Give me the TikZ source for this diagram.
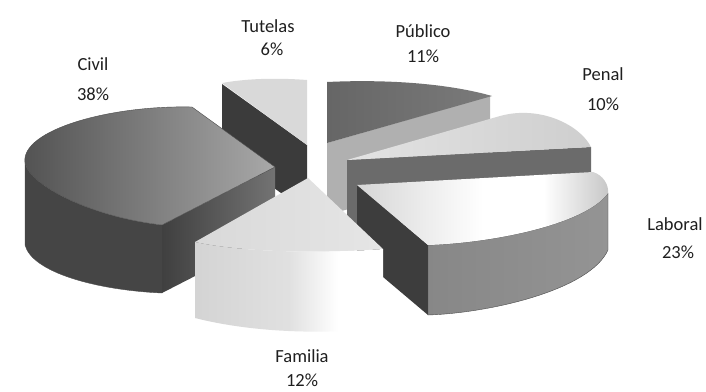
\documentclass[tikz,border=0pt]{standalone}
\usepackage{fontspec}
\setmainfont{Carlito}
\pgfdeclarehorizontalshading{famside}{100bp}{color(0bp)=(black!17); color(25bp)=(black!17); color(50bp)=(black!12); color(63bp)=(white); color(100bp)=(white)}
\pgfdeclarehorizontalshading{labtop}{100bp}{color(0bp)=(black!16); color(25bp)=(black!16); color(50bp)=(white); color(62bp)=(white); color(75bp)=(black!22); color(100bp)=(black!22)}
\begin{document}
\begin{tikzpicture}[x=1pt,y=-1pt,
  edge/.style={draw=black!70, line width=0.4pt, line join=round},
  lbl/.style={font=\fontsize{18.5}{22}\selectfont, text=black!88, anchor=base, inner sep=0pt}]
\useasboundingbox (0,0) rectangle (706,391);
\fill[white] (0,0) rectangle (706,391);

% ---- Tutelas
\fill[black!77] (222,84) -- (307,145) -- (307,212) -- (222,150) -- cycle;
\fill[black!15] (222,83) .. controls (250,78) and (280,78) .. (307,80) -- (307,145) -- cycle;

% ---- Publico
\fill[black!31] (327,143) -- (490,96) -- (490,170) -- (327,215) -- cycle;
\shade[left color=black!60, right color=black!52] (327,82) .. controls (390,79) and (450,84) .. (492,96) -- (327,143) -- cycle;

% ---- Penal
\fill[black!58] (347,160) -- (591,147) -- (591,185) -- (347,232) -- cycle;
\shade[left color=black!11, right color=black!19] (347,160) -- (500,116) .. controls (540,105) and (580,125) .. (591,147) -- cycle;

% ---- Civil
\fill[black!73] (25,163) .. controls (30,186) and (92,217) .. (162,225) -- (162,293) .. controls (95,290) and (32,272) .. (25,245) -- cycle;
\draw[edge] (25,163) -- (25,245) .. controls (32,272) and (95,290) .. (162,293);
\shade[left color=black!75, right color=black!55] (162,225) -- (275,167) -- (275,235) -- (162,293) -- cycle;
\shade[left color=black!68, right color=black!34, edge] (162,225) .. controls (92,217) and (30,186) .. (25,163) .. controls (20,130) and (110,105) .. (192,107) -- (275,167) -- cycle;

% ---- Laboral
\fill[black!76] (357,185) -- (428,245) -- (428,315) -- (357,255) -- cycle;
\shade[left color=black!47, right color=black!42, edge] (428,245) .. controls (490,243) and (585,225) .. (608,193) -- (608,250) .. controls (590,290) and (490,313) .. (428,315) -- cycle;
\path[shading=labtop] (357,185) -- (593,172) .. controls (603,175) and (609,185) .. (608,193) .. controls (585,225) and (490,243) .. (428,245) -- cycle;

% ---- Familia
\shade[left color=black!15, right color=black!10] (308,178) -- (195,242) .. controls (240,252) and (320,254) .. (383,249) -- cycle;
\path[shading=famside] (195,242) .. controls (240,252) and (320,254) .. (383,249) -- (383,328) .. controls (320,335) and (250,332) .. (195,318) -- cycle;

% ---- labels
\node[lbl] (tut) at (268,32) {Tutelas};
\node[lbl] (tutp) at (272,55) {6\%};
\node[lbl] (civ) at (93,70) {Civil};
\node[lbl] (civp) at (93,100) {38\%};
\node[lbl] (pub) at (423,37) {Público};
\node[lbl] (pubp) at (423,62) {11\%};
\node[lbl] (pen) at (603,80) {Penal};
\node[lbl] (penp) at (603,110) {10\%};
\node[lbl] (lab) at (675,230) {Laboral};
\node[lbl] (labp) at (678,258) {23\%};
\node[lbl] (fam) at (302,362) {Familia};
\node[lbl] (famp) at (302,386) {12\%};
\end{tikzpicture}
\end{document}
